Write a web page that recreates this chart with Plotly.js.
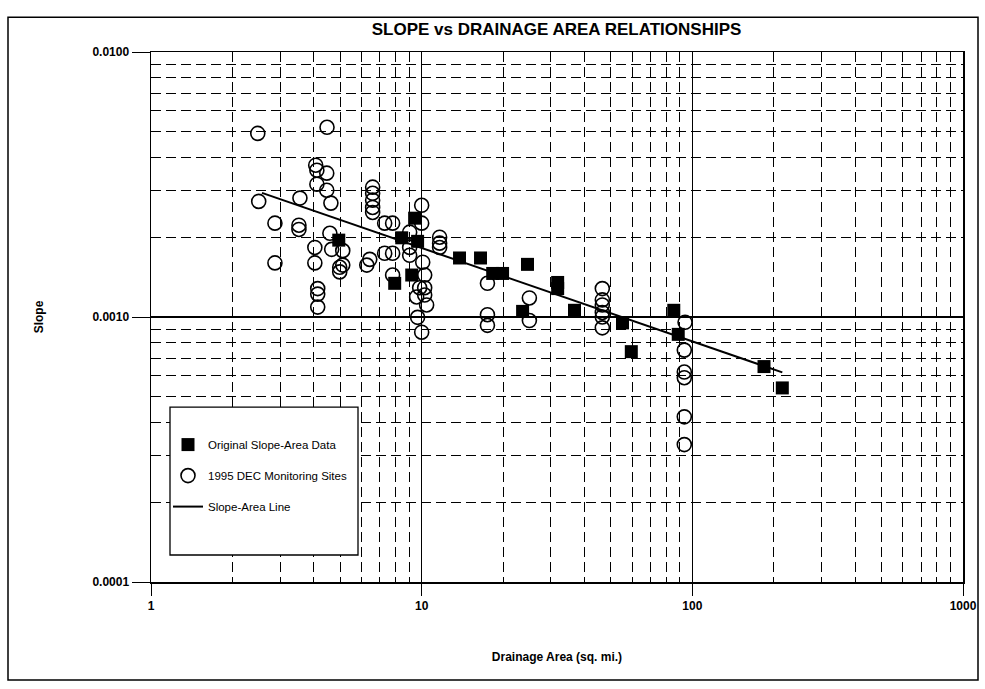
<!DOCTYPE html>
<html>
<head>
<meta charset="utf-8">
<script src="https://cdn.plot.ly/plotly-3.0.1.min.js"></script>
<style>html,body{margin:0;padding:0;background:#fff;}#chart{width:985px;height:689px;}</style>
</head>
<body>
<div id="chart"></div>
<script>
// Original Slope-Area Data (squares)
const origArea  = [4.94, 7.95, 8.44, 9.42, 9.66, 9.19, 13.8, 16.5, 18.3, 19.9, 24.6, 31.8, 31.8, 23.6, 36.7, 55.2, 59.5, 85.4, 88.7, 184, 215];
const origSlope = [0.00195, 0.00134, 0.00199, 0.00236, 0.00193, 0.00144, 0.00167, 0.00167, 0.00146, 0.00146, 0.00158, 0.00135, 0.00128, 0.00105, 0.00106, 0.00095, 0.00074, 0.00106, 0.00086, 0.00065, 0.00054];

// 1995 DEC Monitoring Sites (open circles)
const decArea  = [2.48, 2.50, 2.87, 2.87, 3.52, 3.52, 3.55, 4.06, 4.10, 4.46, 4.10, 4.46, 4.62, 4.47, 4.03, 4.03, 4.13, 4.13, 4.13,
                  4.58, 4.65, 5.11, 4.98, 5.11, 4.98, 6.27, 6.43, 6.59, 6.59, 6.59, 6.59, 6.59, 7.30, 7.81, 7.30, 7.81, 7.81,
                  10.0, 10.0, 9.03, 9.03, 9.03, 10.09, 10.26, 9.83, 10.26, 9.58, 10.26, 10.43, 9.66, 10.0, 11.65, 11.65, 11.65,
                  17.5, 17.5, 17.5, 25.0, 25.0, 46.5, 46.5, 46.5, 46.5, 46.5, 46.5, 94, 93.4, 93.4, 93.4, 93.4, 93.4];
const decSlope = [0.00493, 0.00273, 0.00226, 0.00160, 0.00222, 0.00214, 0.00281, 0.00374, 0.00358, 0.00349, 0.00317, 0.00301, 0.00269, 0.0052, 0.00183, 0.00160, 0.00128, 0.00122, 0.00109,
                  0.00207, 0.00180, 0.00178, 0.00154, 0.00157, 0.00148, 0.00157, 0.00165, 0.00309, 0.00293, 0.00276, 0.00259, 0.00248, 0.00226, 0.00226, 0.00174, 0.00174, 0.00144,
                  0.00264, 0.00226, 0.00209, 0.00183, 0.00171, 0.00161, 0.00144, 0.00129, 0.00129, 0.00119, 0.00121, 0.00111, 0.000997, 0.000876, 0.0020, 0.0019, 0.00183,
                  0.00134, 0.00102, 0.00093, 0.00118, 0.00097, 0.00128, 0.00116, 0.00111, 0.00104, 0.00100, 0.00091, 0.000955, 0.00075, 0.00062, 0.00059, 0.00042, 0.00033];

// Slope-Area Line end points
const lineArea  = [2.57, 215];
const lineSlope = [0.00294, 0.000618];

const xTickVals = [1, 10, 100, 1000];
const xTickText = ['1', '10', '100', '1000'];
const yTickVals = [0.0001, 0.001, 0.01];
const yTickText = ['0.0001', '0.0010', '0.0100'];

const FONT = '"Liberation Sans Narrow", "Arial Narrow", "Liberation Sans", Arial, sans-serif';

const traces = [
  {x: origArea, y: origSlope, type: 'scatter', mode: 'markers', name: 'Original Slope-Area Data',
   legendgroup: 'a', marker: {symbol: 'square', size: 13, color: '#000'}},
  {x: decArea, y: decSlope, type: 'scatter', mode: 'markers', name: '1995 DEC Monitoring Sites',
   legendgroup: 'b', marker: {symbol: 'circle-open', size: 14, color: '#000', line: {width: 1.6, color: '#000'}}},
  {x: lineArea, y: lineSlope, type: 'scatter', mode: 'lines', name: 'Slope-Area Line',
   legendgroup: 'c', line: {color: '#000', width: 2}}
];

const PW = 812, PH = 530.3;
function px(p) { return (p - 151) / PW; }
function py(p) { return (582 - p) / PH; }

const layout = {
  width: 985, height: 689,
  margin: {l: 151, r: 22, t: 52, b: 107},
  paper_bgcolor: '#fff', plot_bgcolor: '#fff',
  font: {family: FONT, color: '#000', size: 12},
  title: {text: '<b>SLOPE vs DRAINAGE AREA RELATIONSHIPS</b>', font: {family: FONT, size: 17, color: '#000'},
          x: 0.565, xanchor: 'center', y: 1 - 29/689, yanchor: 'middle'},
  showlegend: true,
  legend: {x: px(168), y: py(430), xanchor: 'left', yanchor: 'top', bgcolor: 'rgba(0,0,0,0)', borderwidth: 0,
           font: {family: FONT, size: 11.5, color: '#000'}, traceorder: 'grouped', tracegroupgap: 12},
  xaxis: {
    type: 'log', range: [0, 3],
    tickvals: xTickVals, ticktext: xTickText,
    ticks: 'outside', ticklen: 12, tickcolor: '#000', tickwidth: 1,
    showline: true, linecolor: '#000', linewidth: 1.5, mirror: true,
    showgrid: true, gridcolor: '#000', gridwidth: 1.3,
    minor: {dtick: 'D1', showgrid: true, gridcolor: '#000', gridwidth: 1, griddash: '10px,5px', ticks: ''},
    zeroline: false,
    tickfont: {family: FONT, size: 12, color: '#000', weight: 'bold'},
    title: {text: '<b>Drainage Area (sq. mi.)</b>', font: {family: FONT, size: 12, color: '#000'}, standoff: 40}
  },
  yaxis: {
    type: 'log', range: [-4, -2],
    tickvals: yTickVals, ticktext: yTickText,
    ticks: 'outside', ticklen: 18, tickcolor: '#000', tickwidth: 1,
    showline: true, linecolor: '#000', linewidth: 1.5, mirror: true,
    showgrid: true, gridcolor: '#000', gridwidth: 1.3,
    minor: {dtick: 'D1', showgrid: true, gridcolor: '#000', gridwidth: 1, griddash: '10px,5px', ticks: ''},
    zeroline: false,
    tickfont: {family: FONT, size: 12, color: '#000', weight: 'bold'},
    title: {text: '<b>Slope</b>', font: {family: FONT, size: 12, color: '#000'}, standoff: 46}
  },
  shapes: [
    {type: 'rect', xref: 'paper', yref: 'paper', x0: px(170), x1: px(358), y0: py(555), y1: py(407),
     line: {color: '#000', width: 1.3}, fillcolor: '#fff', layer: 'above'},
    {type: 'rect', xref: 'paper', yref: 'paper', x0: px(8), x1: px(978), y0: py(680), y1: py(17),
     line: {color: '#000', width: 1.5}, fillcolor: 'rgba(0,0,0,0)', layer: 'below'}
  ]
};

Plotly.newPlot('chart', traces, layout, {displayModeBar: false, staticPlot: true});
</script>
</body>
</html>
